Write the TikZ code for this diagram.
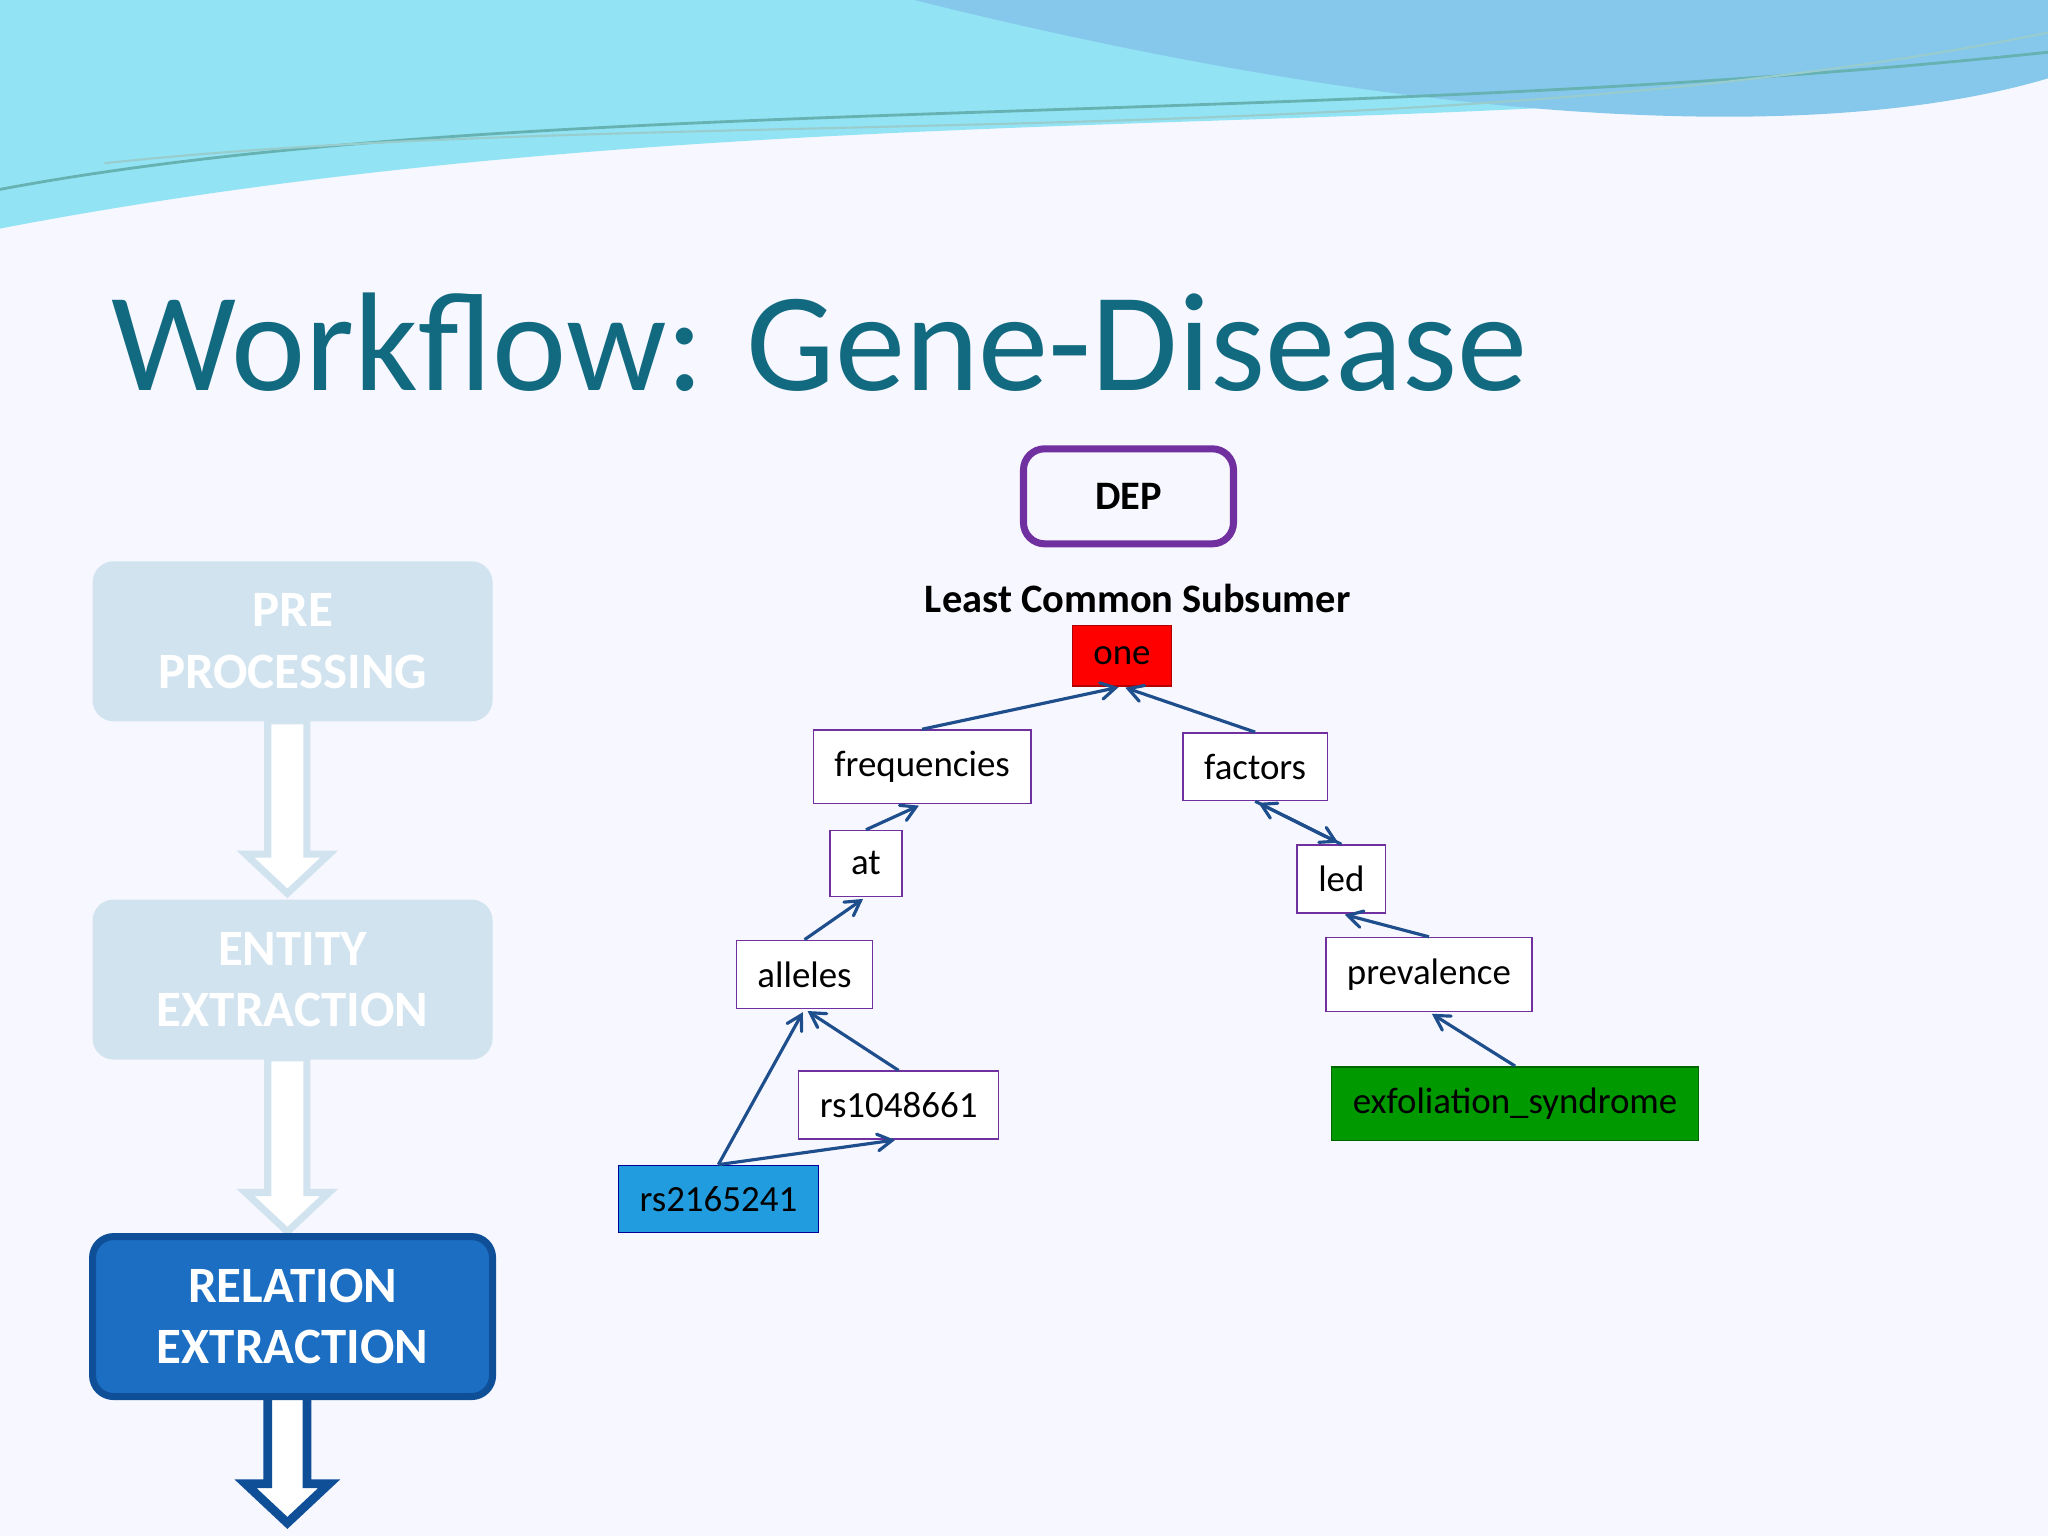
\documentclass[tikz,border=0pt]{standalone}
\usepackage{fontspec}
\setmainfont{Carlito}
\usetikzlibrary{arrows,positioning}
\definecolor{titleteal}{HTML}{126A80}
\definecolor{panelblue}{HTML}{D2E3F0}
\definecolor{relblue}{HTML}{1B6EC2}
\definecolor{reledge}{HTML}{0F4F98}
\definecolor{edgeblue}{HTML}{1F4E8C}
\definecolor{wordbox}{HTML}{7030A0}
\definecolor{wavecyan}{HTML}{92E4F4}
\definecolor{waveblue}{HTML}{86C8EC}
\newcommand{\hollowdown}[3]{% x, top y, tip y
  ({#1-15},#2) -- ({#1+15},#2) -- ({#1+15},{#3-30}) -- ({#1+32},{#3-30}) -- (#1,#3) --
  ({#1-32},{#3-30}) -- ({#1-15},{#3-30}) -- cycle}
\begin{document}
\begin{tikzpicture}[x=0.01306cm,y=-0.01306cm]
       \tikzstyle{word}=[draw=wordbox,fill=white,font=\fontsize{10.5}{12}\selectfont,inner xsep=6pt,inner ysep=6pt]
       \tikzstyle{dep}=[->,>=angle 60,draw=edgeblue,line width=0.9pt,shorten >=1pt]
       \tikzstyle{stage}=[rounded corners=6pt,minimum width=4.0cm,minimum height=1.6cm,align=center,
              font=\bfseries\fontsize{14.5}{17.5}\selectfont,text=white]

       \useasboundingbox (0,0) rectangle (1568,1176);
       \fill[white!97!blue] (0,0) rectangle (1568,1176);
       % top waves
       \fill[wavecyan] (0,0) -- (1568,0) -- (1568,40) .. controls (1200,120) and (600,60) .. (0,175) -- cycle;
       \fill[waveblue] (700,0) -- (1568,0) -- (1568,60) .. controls (1400,110) and (1100,100) .. (700,0) -- cycle;
       \draw[teal!60,line width=0.8pt] (0,145) .. controls (400,70) and (1000,100) .. (1568,40);
       \draw[teal!40,line width=0.6pt] (80,125) .. controls (500,80) and (1100,120) .. (1568,25);

       \node[anchor=west,text=titleteal,font=\fontsize{40}{46}\selectfont] (title) at (76,262) {Workflow: Gene-Disease};

       % left stages
       \draw[panelblue,fill=white,line width=2pt] \hollowdown{220}{552}{684};
       \draw[panelblue,fill=white,line width=2pt] \hollowdown{220}{810}{943};
       \draw[reledge,fill=white,line width=2.5pt] \hollowdown{220}{1068}{1166};
       \node[stage,fill=panelblue] (pre) at (224,491) {PRE\\PROCESSING};
       \node[stage,fill=panelblue] (ent) at (224,750) {ENTITY\\EXTRACTION};
       \node[stage,fill=relblue,draw=reledge,line width=2pt] (rel) at (224,1008) {RELATION\\EXTRACTION};

       % dependency tree
       \node[draw=wordbox,line width=2pt,rounded corners=6pt,minimum width=2.1cm,minimum height=0.95cm,
              font=\bfseries\fontsize{11.5}{14}\selectfont] (dep) at (864,380) {DEP};
       \node[font=\bfseries\fontsize{11.5}{14}\selectfont] (lcs) at (871,458) {Least Common Subsumer};
       \node[word,fill=red,draw=red!70!black] (one) at (859,502) {one};
       \node[word] (freq) at (706,587) {frequencies};
       \node[word] (fact) at (961,587) {factors};
       \node[word] (at) at (663,661) {at};
       \node[word] (led) at (1027,673) {led};
       \node[word] (all) at (616,746) {alleles};
       \node[word] (prev) at (1094,746) {prevalence};
       \node[word] (rs1) at (688,846) {rs1048661};
       \node[word,fill=green!60!black,draw=green!40!black] (exf) at (1160,845) {exfoliation\_syndrome};
       \node[word,fill=cyan!80!blue!90,draw=blue!60!black] (rs2) at (550,918) {rs2165241};

       \draw[dep] (freq.north) -- (one.south);
       \draw[dep] (fact.north) -- (one.south);
       \draw[dep] (at.north) -- (freq.south);
       \draw[dep] (led.north) -- (fact.south);
       \draw[dep] (fact.south) -- (led.north);
       \draw[dep] (prev.north) -- (led.south);
       \draw[dep] (all.north) -- (at.south);
       \draw[dep] (exf.north) -- (prev.south);
       \draw[dep] (rs1.north) -- (all.south);
       \draw[dep] (rs2.north) -- (all.south);
       \draw[dep] (rs2.north) -- (rs1.south);
\end{tikzpicture}
\end{document}
